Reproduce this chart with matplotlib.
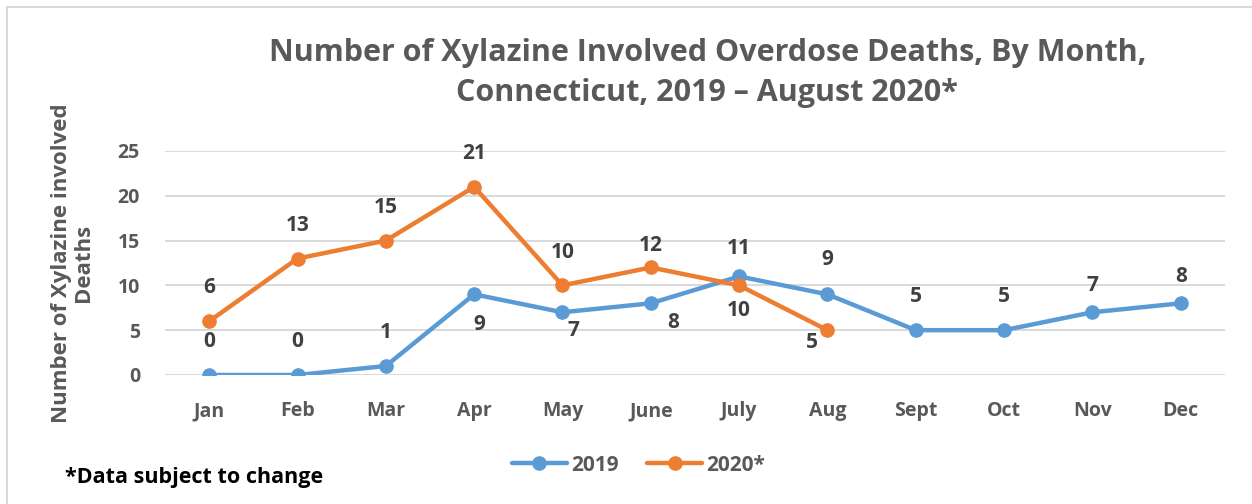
"""
Xylazine overdose deaths by month, CT
"""
import matplotlib
matplotlib.use("Agg")
import matplotlib.pyplot as plt
from matplotlib.patches import Rectangle

months = ["Jan", "Feb", "Mar", "Apr", "May", "June", "July", "Aug",
          "Sept", "Oct", "Nov", "Dec"]
deaths_2019 = [0, 0, 1, 9, 7, 8, 11, 9, 5, 5, 7, 8]
deaths_2020 = [6, 13, 15, 21, 10, 12, 10, 5]
yticks = [0, 5, 10, 15, 20, 25]

# label offsets in points (dx, dy)
off_2019 = [(0, 24), (0, 24), (0, 24), (4, -22), (8, -13), (16, -14),
            (0, 20), (0, 25), (0, 24), (0, 24), (0, 19), (0, 19)]
off_2020 = [(0, 24), (0, 24), (0, 24), (0, 24), (0, 24), (0, 16),
            (0, -18), (-11, -9)]

blue = "#5B9BD5"
orange = "#ED7D31"
grey = "#595959"
font = "Open Sans"

fig = plt.figure(figsize=(12.52, 5.04), dpi=100)
ax = fig.add_axes([0.1318, 0.2560, 0.8466, 0.4444])

x19 = list(range(len(deaths_2019)))
x20 = list(range(len(deaths_2020)))
ax.plot(x19, deaths_2019, color=blue, lw=3.2, marker="o", ms=9.5,
        label="2019", solid_capstyle="round", zorder=3)
ax.plot(x20, deaths_2020, color=orange, lw=3.2, marker="o", ms=9.5,
        label="2020*", solid_capstyle="round", zorder=4)

for xs, ys, offs in [(x19, deaths_2019, off_2019), (x20, deaths_2020, off_2020)]:
    for xi, yi, (dx, dy) in zip(xs, ys, offs):
        ax.annotate(str(yi), (xi, yi), xytext=(dx, dy), textcoords="offset points",
                    ha="center", va="center", fontsize=15, fontweight="bold",
                    color="#404040", family=font)

ax.set_xlim(-0.5, len(months) - 0.5)
ax.set_ylim(0, 25)
ax.set_xticks(x19)
ax.set_xticklabels(months)
ax.set_yticks(yticks)
ax.grid(axis="y", color="#D9D9D9", lw=1.4)
ax.set_axisbelow(True)
for s in ax.spines.values():
    s.set_visible(False)
ax.tick_params(length=0, labelsize=14, labelcolor=grey)
ax.tick_params(axis="x", pad=19)
ax.tick_params(axis="y", pad=18)
for t in ax.get_xticklabels() + ax.get_yticklabels():
    t.set_fontweight("bold")
    t.set_family(font)

ax.set_ylabel("Number of Xylazine involved\nDeaths", fontsize=16, fontweight="bold",
              color=grey, family=font, labelpad=17, linespacing=1.05)

fig.text(0.565, 0.855, "Number of Xylazine Involved Overdose Deaths, By Month,\n"
         "Connecticut, 2019 \u2013 August 2020*", ha="center", va="center",
         fontsize=22, fontweight="bold", color=grey, family=font, linespacing=1.45)

leg = fig.legend(loc="center", bbox_to_anchor=(0.51, 0.077), ncol=2, frameon=False,
                 prop={"family": font, "weight": "bold", "size": 15},
                 handlelength=2.6, columnspacing=1.4, handletextpad=0.2)
for t in leg.get_texts():
    t.set_color(grey)

fig.text(0.052, 0.052, "*Data subject to change", ha="left", va="center",
         fontsize=15.5, fontweight="bold", color="black", family=font)

fig.patches.append(Rectangle((7 / 1252, -0.1), 1.1, 1 - 7 / 504 + 0.1,
                             transform=fig.transFigure, fill=False,
                             edgecolor="#D9D9D9", lw=1.5))

fig.savefig("out.png", dpi=100)
